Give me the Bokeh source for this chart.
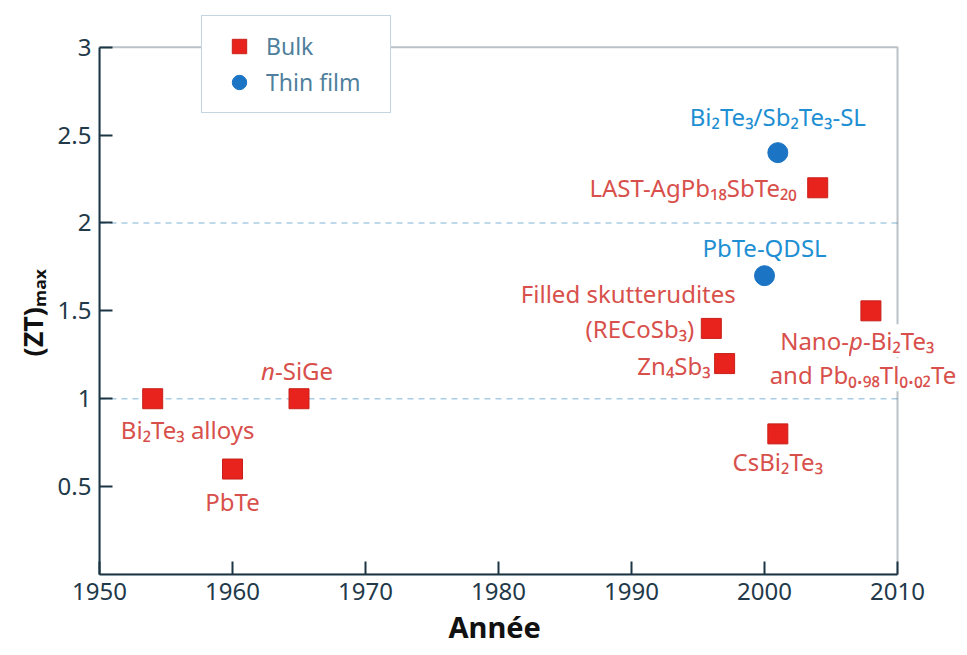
from bokeh.plotting import figure
from bokeh.models import (Range1d, FixedTicker, Label, Legend, LegendItem,
                          ColumnDataSource, BoxAnnotation, Title)
from bokeh.embed import file_html
from bokeh.resources import INLINE

# ---------------- data ----------------
bulk_materials = ["Bi₂Te₃ alloys", "PbTe", "n-SiGe", "Filled skutterudites (RECoSb₃)",
                  "Zn₄Sb₃", "CsBi₂Te₃", "LAST-AgPb₁₈SbTe₂₀", "Nano-p-Bi₂Te₃ and Pb₀.₉₈Tl₀.₀₂Te"]
bulk_years = [1954, 1960, 1965, 1996, 1997, 2001, 2004, 2008]
bulk_zt = [1.0, 0.6, 1.0, 1.4, 1.2, 0.8, 2.2, 1.5]

film_materials = ["Bi₂Te₃/Sb₂Te₃-SL", "PbTe-QDSL"]
film_years = [2001, 2000]
film_zt = [2.4, 1.7]

x_ticks = [1950, 1960, 1970, 1980, 1990, 2000, 2010]
y_ticks = [0.5, 1, 1.5, 2, 2.5, 3]
y_bounds = [0, 3]
grid_levels = [1, 2]

# ---------------- styles ----------------
FONT = "Noto Sans"
AXIS_COLOR = "#1d3646"
RED = "#e8221c"
BLUE = "#1b74c4"
RED_TXT = "#d8504b"
BLUE_TXT = "#1f8fd3"
LBL_SIZE = "24px"

# frame is extended a little beyond the axes (right/top) so that labels and the
# legend that overhang the axes box are not clipped
p = figure(width=959, height=647, output_backend="svg", toolbar_location=None,
           x_range=Range1d(1950, 2014.66), y_range=Range1d(0, 3.22),
           min_border_left=99, min_border_right=0, min_border_top=8, min_border_bottom=69)
p.background_fill_color = "white"
p.border_fill_color = "white"
p.outline_line_color = None

for ax in (p.xaxis[0], p.yaxis[0]):
    ax.axis_line_color = AXIS_COLOR
    ax.axis_line_width = 2
    ax.major_tick_line_color = AXIS_COLOR
    ax.major_tick_line_width = 2
    ax.major_tick_in = 13
    ax.major_tick_out = 0
    ax.minor_tick_line_color = None
    ax.major_label_text_font = FONT
    ax.major_label_text_font_size = "24px"
    ax.major_label_text_color = "#22394a"

p.xaxis.ticker = FixedTicker(ticks=x_ticks)
p.yaxis.ticker = FixedTicker(ticks=y_ticks)
p.xaxis.bounds = (x_ticks[0], x_ticks[-1])
p.yaxis.bounds = (y_bounds[0], y_bounds[1])
p.yaxis.major_label_overrides = {0.5: "0.5", 1: "1", 1.5: "1.5", 2: "2", 2.5: "2.5", 3: "3"}
p.xaxis.major_label_standoff = 8
p.yaxis.major_label_standoff = 8

# axis titles (as titles so they can be placed on the axes box, not the frame)
p.add_layout(Title(text="Année", align="left", offset=349, standoff=4,
                   text_font=FONT, text_font_size="29px", text_font_style="bold",
                   text_color="#111111"), "below")
p.add_layout(Title(text="(ZT)ₘₐₓ", align="left", offset=218, standoff=8,
                   text_font=FONT, text_font_size="27px", text_font_style="bold",
                   text_color="#111111"), "left")

p.grid.visible = False

# axes box (top and right border at 3 and 2010)
p.add_layout(BoxAnnotation(left=x_ticks[0], right=x_ticks[-1], bottom=y_bounds[0], top=y_bounds[1],
                           fill_alpha=0, line_color=AXIS_COLOR, line_width=2))

# dashed reference lines at ZT = 1 and 2
p.segment(x0=[x_ticks[0]] * len(grid_levels), x1=[x_ticks[-1]] * len(grid_levels),
          y0=grid_levels, y1=grid_levels, line_color="#a9cde4", line_dash="6 5", line_width=1.5)

bulk_src = ColumnDataSource(dict(x=bulk_years, y=bulk_zt, name=bulk_materials))
film_src = ColumnDataSource(dict(x=film_years, y=film_zt, name=film_materials))

r_bulk = p.scatter("x", "y", source=bulk_src, marker="square", size=20,
                   fill_color=RED, line_color="#c8201a", line_width=1)
r_film = p.scatter("x", "y", source=film_src, marker="circle", size=20,
                   fill_color=BLUE, line_color=BLUE, line_width=1)

# ---------------- point labels ----------------
# (series, index, text, dx, dy, align, style)
pieces = [
    ("b", 0, "Bi₂Te₃ alloys", 35, -31, "center", "normal"),
    ("b", 1, "PbTe", 0, -32, "center", "normal"),
    ("b", 2, "n", -24, 28, "right", "italic"),
    ("b", 2, "-SiGe", -24, 28, "left", "normal"),
    ("b", 3, "Filled skutterudites", -83, 35, "center", "normal"),
    ("b", 3, "(RECoSb₃)", -17, 0, "right", "normal"),
    ("b", 4, "Zn₄Sb₃", -14, -2, "right", "normal"),
    ("b", 5, "CsBi₂Te₃", 0, -28, "center", "normal"),
    ("b", 6, "LAST-AgPb₁₈SbTe₂₀", -21, 0, "right", "normal"),
    ("b", 7, "p", -22, -30, "left", "italic"),
    ("b", 7, "Nano-", -22, -30, "right", "normal"),
    ("b", 7, "-Bi₂Te₃", -8, -30, "left", "normal"),
    ("b", 7, "and Pb₀.₉₈Tl₀.₀₂Te", -8, -64, "center", "normal"),
    ("f", 0, "Bi₂Te₃/Sb₂Te₃-SL", 0, 36, "center", "normal"),
    ("f", 1, "PbTe-QDSL", 0, 28, "center", "normal"),
]
for series, i, txt, dx, dy, align, style in pieces:
    if series == "b":
        xv, yv, col = bulk_years[i], bulk_zt[i], RED_TXT
    else:
        xv, yv, col = film_years[i], film_zt[i], BLUE_TXT
    p.add_layout(Label(x=xv, y=yv, x_offset=dx, y_offset=dy, text=txt,
                       text_align=align, text_baseline="middle",
                       text_font=FONT, text_font_size=LBL_SIZE, text_font_style=style,
                       text_color=col, background_fill_color="white"))

# ---------------- legend ----------------
legend = Legend(items=[LegendItem(label="Bulk", renderers=[r_bulk]),
                       LegendItem(label="Thin film", renderers=[r_film])],
                location=(102, 461), orientation="vertical",
                glyph_width=50, glyph_height=36, label_height=36, label_width=112,
                spacing=0, padding=12, margin=0, label_standoff=2,
                label_text_font=FONT, label_text_font_size="23px",
                label_text_color="#4f7f9c",
                border_line_color="#87aec6", border_line_width=1.5,
                background_fill_color="white", background_fill_alpha=1.0)
p.add_layout(legend)

open("out.html", "w").write(file_html(p, INLINE))
